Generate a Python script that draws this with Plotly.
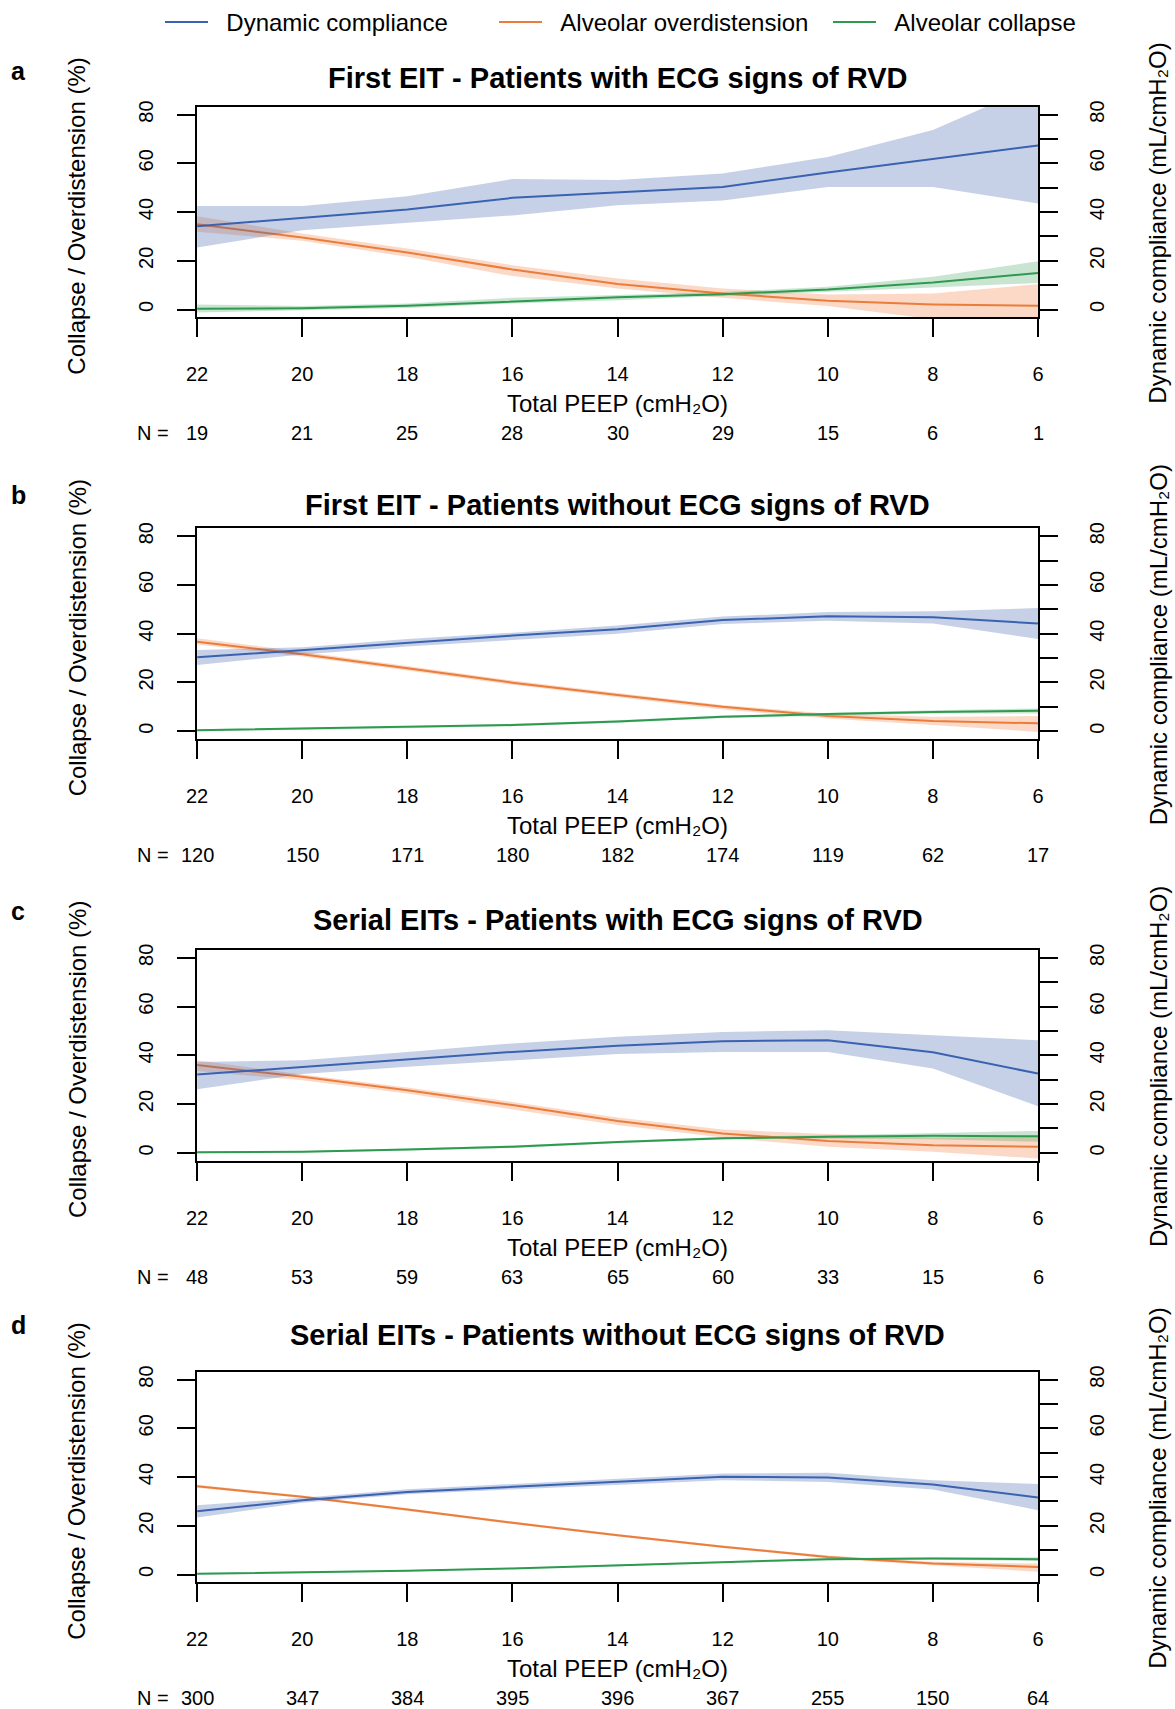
import plotly.graph_objects as go

# ---------------- data ----------------
peep = [22, 20, 18, 16, 14, 12, 10, 8, 6]
titles = [
    "First EIT - Patients with ECG signs of RVD",
    "First EIT - Patients without ECG signs of RVD",
    "Serial EITs - Patients with ECG signs of RVD",
    "Serial EITs - Patients without ECG signs of RVD",
]
panel_letters = ["a", "b", "c", "d"]
n_a = [19, 21, 25, 28, 30, 29, 15, 6, 1]
n_b = [120, 150, 171, 180, 182, 174, 119, 62, 17]
n_c = [48, 53, 59, 63, 65, 60, 33, 15, 6]
n_d = [300, 347, 384, 395, 396, 367, 255, 150, 64]

# Panel a
comp_a = [34.2, 37.6, 41.0, 45.8, 48.0, 50.3, 56.2, 61.8, 67.3]
comp_a_hi = [42.5, 42.5, 46.5, 53.5, 53.1, 55.8, 62.6, 73.6, 92.5]
comp_a_lo = [25.4, 32.5, 35.6, 38.6, 42.8, 44.7, 50.3, 50.3, 43.5]
over_a = [35.0, 29.5, 23.4, 16.4, 10.5, 6.6, 3.6, 2.1, 1.5]
over_a_hi = [38.3, 31.2, 25.0, 18.2, 12.7, 8.6, 6.2, 6.6, 10.4]
over_a_lo = [31.9, 28.2, 21.6, 13.7, 8.6, 4.8, 1.4, -4.0, -8.0]
coll_a = [0.3, 0.5, 1.5, 3.4, 5.0, 6.3, 8.2, 11.1, 15.0]
coll_a_hi = [2.1, 1.4, 2.5, 4.8, 5.9, 7.2, 9.3, 13.4, 19.8]
coll_a_lo = [-1.2, -0.3, 0.6, 2.5, 3.8, 5.5, 7.1, 9.0, 10.9]

# Panel b
comp_b = [30.3, 33.3, 36.4, 39.2, 41.8, 45.6, 47.1, 46.7, 44.2]
comp_b_hi = [33.3, 34.4, 37.8, 40.4, 43.4, 47.0, 48.9, 49.2, 50.5]
comp_b_lo = [27.1, 31.5, 34.7, 37.4, 40.0, 44.0, 45.3, 44.2, 37.8]
over_b = [36.7, 31.6, 25.8, 19.9, 14.8, 10.0, 6.2, 4.2, 3.2]
over_b_hi = [38.1, 32.6, 26.7, 20.8, 15.7, 10.7, 7.3, 5.9, 6.2]
over_b_lo = [35.6, 30.6, 24.9, 19.0, 13.9, 8.9, 5.2, 2.5, -0.3]
coll_b = [0.4, 1.0, 1.6, 2.5, 4.0, 5.9, 7.0, 7.9, 8.4]
coll_b_hi = [0.8, 1.4, 2.0, 3.0, 4.5, 6.4, 7.6, 8.6, 9.3]
coll_b_lo = [0.0, 0.6, 1.2, 2.0, 3.5, 5.4, 6.4, 7.2, 7.3]

# Panel c
comp_c = [32.1, 35.3, 38.4, 41.4, 43.9, 45.8, 46.2, 41.3, 32.5]
comp_c_hi = [37.3, 38.0, 41.4, 44.9, 47.6, 49.6, 50.3, 48.3, 46.2]
comp_c_lo = [26.1, 32.3, 35.3, 38.0, 40.5, 41.4, 41.4, 34.6, 19.1]
over_c = [36.0, 31.2, 25.7, 19.6, 13.1, 7.9, 4.9, 3.1, 2.5]
over_c_hi = [38.0, 32.1, 26.8, 20.9, 14.5, 9.6, 7.7, 6.3, 6.6]
over_c_lo = [33.6, 29.8, 24.3, 17.8, 11.4, 6.3, 2.5, 0.4, -2.3]
coll_c = [0.2, 0.4, 1.4, 2.5, 4.4, 6.0, 6.6, 7.0, 6.8]
coll_c_hi = [0.6, 0.8, 1.8, 3.0, 4.9, 6.5, 7.2, 8.2, 9.0]
coll_c_lo = [-0.2, 0.0, 1.0, 2.0, 3.9, 5.5, 5.9, 5.6, 4.5]

# Panel d
comp_d = [26.0, 30.5, 33.9, 36.0, 38.0, 40.1, 39.8, 36.9, 31.6]
comp_d_hi = [28.4, 31.5, 35.0, 37.1, 39.1, 41.4, 41.7, 38.7, 37.1]
comp_d_lo = [23.4, 29.4, 32.9, 34.9, 36.9, 38.7, 38.0, 34.9, 26.4]
over_d = [36.2, 31.9, 26.7, 21.2, 16.1, 11.4, 7.2, 4.5, 3.1]
over_d_hi = [36.8, 32.4, 27.2, 21.7, 16.6, 11.9, 7.8, 5.2, 4.5]
over_d_lo = [35.6, 31.4, 26.2, 20.7, 15.6, 10.9, 6.6, 3.8, 1.1]
coll_d = [0.3, 0.8, 1.5, 2.5, 3.7, 5.2, 6.3, 6.6, 6.3]
coll_d_hi = [0.6, 1.1, 1.8, 2.8, 4.0, 5.5, 6.7, 7.1, 7.1]
coll_d_lo = [0.0, 0.5, 1.2, 2.2, 3.4, 4.9, 5.9, 6.1, 5.5]

panels = [
    dict(comp=(comp_a, comp_a_lo, comp_a_hi), over=(over_a, over_a_lo, over_a_hi),
         coll=(coll_a, coll_a_lo, coll_a_hi), n=n_a),
    dict(comp=(comp_b, comp_b_lo, comp_b_hi), over=(over_b, over_b_lo, over_b_hi),
         coll=(coll_b, coll_b_lo, coll_b_hi), n=n_b),
    dict(comp=(comp_c, comp_c_lo, comp_c_hi), over=(over_c, over_c_lo, over_c_hi),
         coll=(coll_c, coll_c_lo, coll_c_hi), n=n_c),
    dict(comp=(comp_d, comp_d_lo, comp_d_hi), over=(over_d, over_d_lo, over_d_hi),
         coll=(coll_d, coll_d_lo, coll_d_hi), n=n_d),
]

series_names = {"comp": "Dynamic compliance", "over": "Alveolar overdistension",
                "coll": "Alveolar collapse"}
line_colors = {"comp": "rgb(58,98,176)", "over": "rgb(234,125,60)", "coll": "rgb(46,154,80)"}
fill_colors = {"comp": "rgba(58,98,176,0.29)", "over": "rgba(242,125,60,0.29)",
               "coll": "rgba(46,154,80,0.26)"}

# ---------------- layout geometry (pixels) ----------------
W, H = 1175, 1709
FONT = "Liberation Sans, Arial, Helvetica, sans-serif"
x_left, x_right = 197.1, 1038.0
box_h = 210.6
tops = [106.7 + i * 421.67 for i in range(4)]
letter_off = [-36.0, -33.0, -39.5, -46.5]
title_off = [-28.5, -23.5, -30.5, -37.0]


def px_x(p):
    return p / W


def px_y(p):
    return 1 - p / H


fig = go.Figure()
annotations = []
layout_axes = {}

for i, pdata in enumerate(panels):
    xa = "x" if i == 0 else f"x{i + 1}"
    yl = "y" if i == 0 else f"y{2 * i + 1}"
    yr = f"y{2 * i + 2}"
    T = tops[i]
    B = T + box_h
    for key in ["comp", "over", "coll"]:
        mid, lo, hi = pdata[key]
        yax = yr if key == "comp" else yl
        fig.add_trace(go.Scatter(
            x=peep + peep[::-1], y=hi + lo[::-1], fill="toself",
            fillcolor=fill_colors[key], line=dict(width=0), mode="lines",
            hoverinfo="skip", showlegend=False, xaxis=xa, yaxis=yax))
    for key in ["comp", "over", "coll"]:
        mid, lo, hi = pdata[key]
        yax = yr if key == "comp" else yl
        fig.add_trace(go.Scatter(
            x=peep, y=mid, mode="lines", name="\u00a0\u00a0" + series_names[key],
            line=dict(color=line_colors[key], width=2),
            showlegend=(i == 0), legendgroup=key, xaxis=xa, yaxis=yax))

    xname = "xaxis" if i == 0 else f"xaxis{i + 1}"
    ylname = "yaxis" if i == 0 else f"yaxis{2 * i + 1}"
    yrname = f"yaxis{2 * i + 2}"
    ydom = [px_y(B), px_y(T)]
    layout_axes[xname] = dict(
        domain=[px_x(x_left), px_x(x_right)], range=[22, 6], anchor=yl,
        tickmode="array", tickvals=peep, ticks="outside", ticklen=18, tickwidth=2,
        tickcolor="black", showline=True, linewidth=2, linecolor="black", mirror=True,
        showgrid=False, zeroline=False, tickfont=dict(family=FONT, size=20, color="black"),
        ticklabelstandoff=20)
    layout_axes[ylname] = dict(
        domain=ydom, range=[-3.2, 83.2], anchor=xa, tickmode="array",
        tickvals=[0, 20, 40, 60, 80], ticks="outside", ticklen=18, tickwidth=2,
        tickcolor="black", showline=True, linewidth=2, linecolor="black", mirror=True,
        showgrid=False, zeroline=False, tickangle=-90,
        tickfont=dict(family=FONT, size=20, color="black"), ticklabelstandoff=16)
    layout_axes[yrname] = dict(
        domain=ydom, range=[-3.2, 83.2], anchor=xa, overlaying=yl, side="right",
        tickmode="linear", tick0=0, dtick=20,
        ticks="outside", ticklen=18, tickwidth=2, tickcolor="black",
        minor=dict(tick0=0, dtick=10, ticks="outside", ticklen=18, tickwidth=2,
                   tickcolor="black", showgrid=False),
        showline=True, linewidth=2, linecolor="black", showgrid=False, zeroline=False,
        tickangle=-90, tickfont=dict(family=FONT, size=20, color="black"),
        ticklabelstandoff=22)

    xc = px_x((x_left + x_right) / 2)
    annotations += [
        dict(text=f"<b>{titles[i]}</b>", x=xc, y=px_y(T + title_off[i]),
             xref="paper", yref="paper", xanchor="center", yanchor="middle",
             showarrow=False, font=dict(family=FONT, size=29, color="black")),
        dict(text=f"<b>{panel_letters[i]}</b>", x=px_x(18.4), y=px_y(T + letter_off[i]),
             xref="paper", yref="paper", xanchor="center", yanchor="middle",
             showarrow=False, font=dict(family=FONT, size=25, color="black")),
        dict(text="Collapse / Overdistension (%)", x=px_x(77), y=px_y(T + 110),
             xref="paper", yref="paper", xanchor="center", yanchor="middle",
             textangle=-90, showarrow=False, font=dict(family=FONT, size=24, color="black")),
        dict(text="Dynamic compliance (mL/cmH\u2082O)", x=px_x(1158), y=px_y(T + 117),
             xref="paper", yref="paper", xanchor="center", yanchor="middle",
             textangle=-90, showarrow=False, font=dict(family=FONT, size=24, color="black")),
        dict(text="Total PEEP (cmH\u2082O)", x=xc, y=px_y(T + 297),
             xref="paper", yref="paper", xanchor="center", yanchor="middle",
             showarrow=False, font=dict(family=FONT, size=24, color="black")),
        dict(text="N =", x=px_x(171), y=px_y(T + 326.5), xref="paper", yref="paper",
             xanchor="right", yanchor="middle", showarrow=False,
             font=dict(family=FONT, size=20, color="black")),
    ]
    for xv, nv in zip(peep, pdata["n"]):
        annotations.append(dict(
            text=str(nv), x=xv, y=px_y(T + 326.5), xref=xa, yref="paper",
            xanchor="center", yanchor="middle", showarrow=False,
            font=dict(family=FONT, size=20, color="black")))

fig.update_layout(
    width=W, height=H, autosize=False,
    margin=dict(l=0, r=0, t=0, b=0, pad=0, autoexpand=False),
    paper_bgcolor="white", plot_bgcolor="white",
    font=dict(family=FONT, size=20, color="black"),
    showlegend=True,
    legend=dict(orientation="h", x=px_x(160), xanchor="left", y=1,
                yanchor="top", font=dict(family=FONT, size=24, color="black"),
                entrywidth=276, entrywidthmode="pixels", itemwidth=43,
                bgcolor="rgba(0,0,0,0)", borderwidth=0),
    annotations=annotations,
    **layout_axes,
)

fig.write_html("out.html", config={"displayModeBar": False},
               post_script="document.body.style.margin='0';document.body.style.overflow='hidden';")
